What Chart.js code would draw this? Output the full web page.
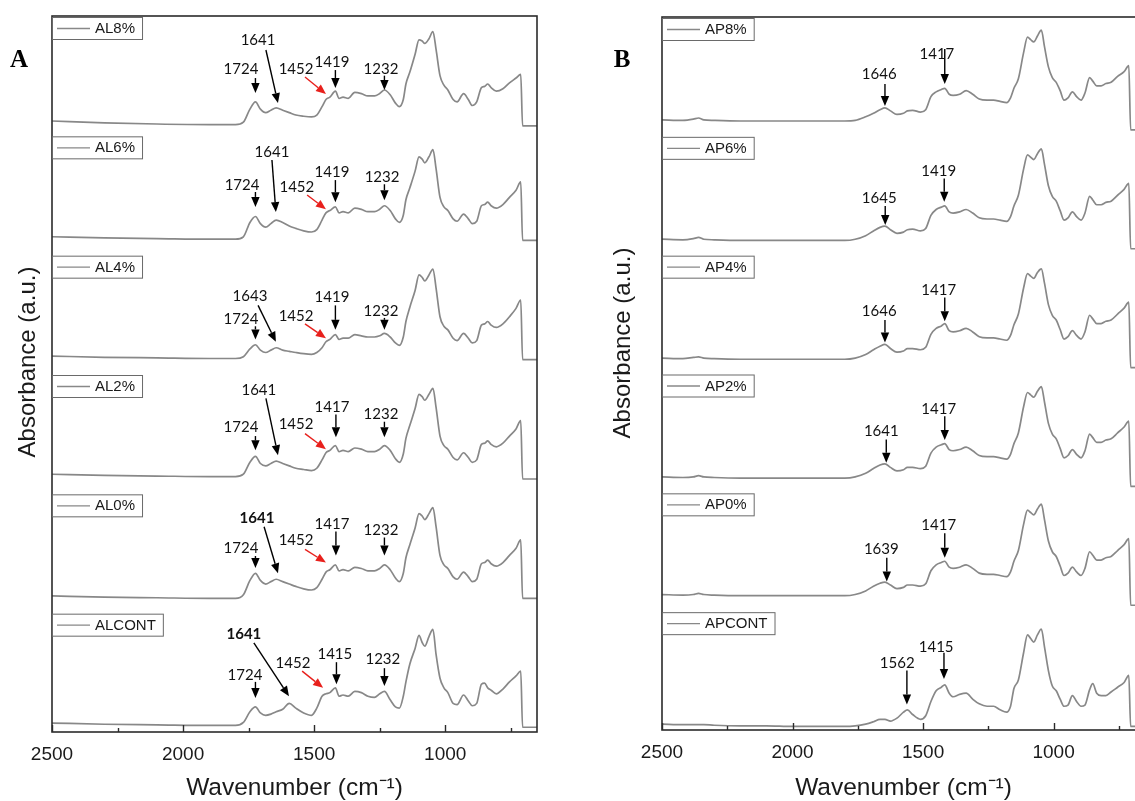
<!DOCTYPE html>
<html>
<head>
<meta charset="utf-8">
<script src="https://cdn.jsdelivr.net/npm/chart.js@4.4.1/dist/chart.umd.min.js"></script>
<style>
  html, body { margin: 0; padding: 0; background: #fff; overflow: hidden; width: 1135px; height: 801px; }
  canvas { position: absolute; top: 0; }
  #chartA { left: 0; }
  #chartB { left: 560px; }
</style>
</head>
<body>
<canvas id="chartA" width="560" height="801"></canvas>
<canvas id="chartB" width="600" height="801"></canvas>
<script>
// ---- data ----
const xTicks = [2500, 2250, 2000, 1750, 1500, 1250, 1000, 750];
const xMajor = [2500, 2000, 1500, 1000];

const namesA = ['AL8%', 'AL6%', 'AL4%', 'AL2%', 'AL0%', 'ALCONT'];
const namesB = ['AP8%', 'AP6%', 'AP4%', 'AP2%', 'AP0%', 'APCONT'];

const wnA = [2500, 2300, 2100, 1900, 1800, 1770, 1745, 1724, 1705, 1685, 1665, 1645, 1620, 1595, 1570, 1540,
  1510, 1490, 1470, 1455, 1440, 1419, 1405, 1390, 1370, 1345, 1320, 1295, 1270, 1250, 1232, 1210,
  1190, 1175, 1160, 1150, 1135, 1115, 1100, 1088, 1078, 1062, 1047, 1035, 1020, 1005, 990, 970,
  955, 930, 912, 897, 880, 862, 850, 838, 825, 805, 780, 755, 730, 712, 705, 650];

const al8 = [0.12, 0.105, 0.095, 0.09, 0.09, 0.11, 0.22, 0.28, 0.22, 0.19, 0.21, 0.23, 0.21, 0.19, 0.17, 0.16,
  0.155, 0.17, 0.24, 0.30, 0.32, 0.37, 0.31, 0.32, 0.31, 0.36, 0.35, 0.33, 0.33, 0.35, 0.38, 0.34,
  0.27, 0.24, 0.30, 0.43, 0.53, 0.68, 0.80, 0.79, 0.77, 0.81, 0.87, 0.72, 0.50, 0.42, 0.38, 0.30,
  0.28, 0.35, 0.30, 0.25, 0.28, 0.40, 0.41, 0.43, 0.40, 0.37, 0.39, 0.44, 0.48, 0.51, 0.08, 0.08];
const al6 = [0.15, 0.14, 0.135, 0.13, 0.13, 0.15, 0.27, 0.32, 0.26, 0.23, 0.26, 0.29, 0.27, 0.24, 0.22, 0.20,
  0.19, 0.21, 0.29, 0.35, 0.37, 0.40, 0.35, 0.36, 0.35, 0.39, 0.38, 0.36, 0.36, 0.38, 0.41, 0.37,
  0.30, 0.27, 0.33, 0.46, 0.56, 0.70, 0.82, 0.80, 0.77, 0.82, 0.88, 0.72, 0.48, 0.40, 0.37, 0.30,
  0.28, 0.34, 0.30, 0.26, 0.28, 0.41, 0.42, 0.44, 0.41, 0.39, 0.42, 0.48, 0.54, 0.61, 0.12, 0.12];
const al4 = [0.15, 0.14, 0.135, 0.13, 0.13, 0.145, 0.21, 0.245, 0.20, 0.18, 0.20, 0.22, 0.20, 0.19, 0.18, 0.17,
  0.165, 0.18, 0.22, 0.27, 0.29, 0.33, 0.29, 0.30, 0.30, 0.33, 0.32, 0.31, 0.31, 0.32, 0.34, 0.31,
  0.26, 0.24, 0.31, 0.44, 0.56, 0.70, 0.83, 0.81, 0.78, 0.83, 0.88, 0.72, 0.48, 0.40, 0.37, 0.30,
  0.28, 0.34, 0.30, 0.26, 0.28, 0.41, 0.42, 0.44, 0.41, 0.39, 0.42, 0.48, 0.55, 0.62, 0.12, 0.12];
const al2 = [0.16, 0.15, 0.145, 0.14, 0.14, 0.16, 0.26, 0.31, 0.25, 0.23, 0.25, 0.27, 0.25, 0.23, 0.21, 0.20,
  0.19, 0.21, 0.28, 0.34, 0.36, 0.40, 0.35, 0.36, 0.35, 0.38, 0.37, 0.35, 0.35, 0.37, 0.40, 0.36,
  0.29, 0.26, 0.33, 0.46, 0.57, 0.71, 0.83, 0.81, 0.78, 0.83, 0.88, 0.72, 0.48, 0.40, 0.37, 0.30,
  0.28, 0.34, 0.30, 0.26, 0.28, 0.41, 0.42, 0.44, 0.41, 0.39, 0.42, 0.48, 0.54, 0.61, 0.12, 0.12];
const al0 = [0.14, 0.13, 0.125, 0.12, 0.12, 0.15, 0.27, 0.33, 0.27, 0.24, 0.26, 0.28, 0.26, 0.24, 0.22, 0.20,
  0.19, 0.21, 0.28, 0.34, 0.36, 0.40, 0.35, 0.36, 0.35, 0.38, 0.37, 0.35, 0.35, 0.37, 0.40, 0.36,
  0.29, 0.26, 0.33, 0.46, 0.57, 0.71, 0.83, 0.81, 0.78, 0.83, 0.88, 0.72, 0.48, 0.40, 0.37, 0.30,
  0.28, 0.34, 0.30, 0.26, 0.28, 0.41, 0.42, 0.44, 0.41, 0.39, 0.42, 0.48, 0.54, 0.61, 0.12, 0.12];
const alCont = [0.075, 0.065, 0.06, 0.055, 0.055, 0.08, 0.17, 0.21, 0.16, 0.14, 0.15, 0.17, 0.19, 0.24, 0.20, 0.16,
  0.14, 0.20, 0.30, 0.32, 0.33, 0.37, 0.30, 0.31, 0.30, 0.34, 0.33, 0.30, 0.29, 0.32, 0.34, 0.27,
  0.21, 0.20, 0.30, 0.42, 0.57, 0.70, 0.81, 0.75, 0.72, 0.80, 0.86, 0.65, 0.45, 0.37, 0.33, 0.24,
  0.23, 0.31, 0.26, 0.22, 0.24, 0.40, 0.41, 0.37, 0.35, 0.32, 0.36, 0.42, 0.47, 0.51, 0.04, 0.04];

const wnB = [2500, 2420, 2380, 2360, 2340, 2300, 2200, 2100, 2000, 1900, 1800, 1760, 1720, 1690, 1665, 1646,
  1625, 1600, 1575, 1560, 1540, 1510, 1490, 1470, 1450, 1430, 1417, 1400, 1385, 1360, 1335, 1310,
  1285, 1255, 1230, 1205, 1180, 1165, 1152, 1135, 1115, 1100, 1088, 1076, 1062, 1047, 1035, 1020,
  1005, 990, 975, 960, 945, 928, 912, 895, 880, 862, 850, 835, 818, 800, 780, 755, 730, 712, 705, 650];

const ap8 = [0.135, 0.13, 0.14, 0.15, 0.135, 0.13, 0.125, 0.125, 0.125, 0.125, 0.125, 0.13, 0.16, 0.19, 0.22, 0.235,
  0.21, 0.18, 0.19, 0.21, 0.215, 0.20, 0.22, 0.33, 0.37, 0.39, 0.40, 0.35, 0.34, 0.35, 0.38, 0.35,
  0.31, 0.30, 0.30, 0.29, 0.28, 0.32, 0.40, 0.48, 0.70, 0.83, 0.81, 0.79, 0.84, 0.89, 0.75, 0.58,
  0.49, 0.45, 0.38, 0.30, 0.32, 0.37, 0.33, 0.30, 0.36, 0.49, 0.46, 0.42, 0.42, 0.44, 0.45, 0.50, 0.54, 0.59, 0.05, 0.05];
const ap6 = [0.13, 0.125, 0.135, 0.145, 0.13, 0.125, 0.12, 0.12, 0.12, 0.12, 0.12, 0.13, 0.16, 0.20, 0.23, 0.24,
  0.21, 0.18, 0.19, 0.21, 0.215, 0.20, 0.22, 0.33, 0.38, 0.40, 0.41, 0.36, 0.35, 0.36, 0.38, 0.35,
  0.31, 0.30, 0.30, 0.29, 0.28, 0.32, 0.41, 0.50, 0.72, 0.84, 0.82, 0.80, 0.85, 0.89, 0.76, 0.58,
  0.49, 0.45, 0.37, 0.29, 0.31, 0.36, 0.32, 0.29, 0.35, 0.49, 0.46, 0.42, 0.42, 0.44, 0.45, 0.50, 0.55, 0.60, 0.05, 0.05];
const ap4 = [0.13, 0.125, 0.135, 0.14, 0.13, 0.125, 0.12, 0.12, 0.12, 0.12, 0.12, 0.13, 0.16, 0.20, 0.23, 0.245,
  0.21, 0.18, 0.19, 0.21, 0.21, 0.20, 0.22, 0.33, 0.38, 0.40, 0.42, 0.36, 0.35, 0.36, 0.38, 0.35,
  0.31, 0.30, 0.30, 0.29, 0.28, 0.32, 0.41, 0.50, 0.72, 0.84, 0.82, 0.80, 0.85, 0.88, 0.76, 0.58,
  0.49, 0.45, 0.37, 0.29, 0.31, 0.36, 0.32, 0.29, 0.35, 0.49, 0.46, 0.42, 0.42, 0.44, 0.45, 0.50, 0.55, 0.60, 0.05, 0.05];
const ap2 = [0.13, 0.125, 0.13, 0.14, 0.13, 0.125, 0.12, 0.12, 0.12, 0.12, 0.12, 0.13, 0.16, 0.20, 0.23, 0.24,
  0.21, 0.18, 0.19, 0.21, 0.21, 0.20, 0.22, 0.33, 0.38, 0.40, 0.41, 0.36, 0.35, 0.36, 0.38, 0.35,
  0.31, 0.30, 0.30, 0.29, 0.28, 0.32, 0.41, 0.50, 0.72, 0.84, 0.82, 0.80, 0.85, 0.89, 0.76, 0.58,
  0.49, 0.45, 0.37, 0.29, 0.31, 0.36, 0.32, 0.29, 0.35, 0.49, 0.46, 0.42, 0.42, 0.44, 0.45, 0.50, 0.55, 0.60, 0.05, 0.05];
const ap0 = [0.14, 0.135, 0.14, 0.15, 0.14, 0.135, 0.13, 0.13, 0.13, 0.13, 0.13, 0.14, 0.17, 0.21, 0.235, 0.245,
  0.22, 0.19, 0.20, 0.22, 0.22, 0.21, 0.23, 0.34, 0.39, 0.41, 0.42, 0.37, 0.36, 0.37, 0.39, 0.36,
  0.32, 0.31, 0.31, 0.30, 0.29, 0.33, 0.42, 0.51, 0.73, 0.85, 0.83, 0.81, 0.86, 0.90, 0.77, 0.59,
  0.50, 0.46, 0.38, 0.30, 0.32, 0.37, 0.33, 0.30, 0.36, 0.50, 0.47, 0.43, 0.43, 0.45, 0.46, 0.51, 0.56, 0.61, 0.05, 0.05];
const apCont = [0.05, 0.045, 0.045, 0.045, 0.045, 0.04, 0.035, 0.035, 0.03, 0.03, 0.03, 0.035, 0.05, 0.07, 0.09, 0.09,
  0.075, 0.10, 0.15, 0.17, 0.13, 0.09, 0.12, 0.24, 0.33, 0.36, 0.38, 0.31, 0.28, 0.30, 0.31, 0.26,
  0.22, 0.20, 0.20, 0.17, 0.15, 0.20, 0.35, 0.42, 0.65, 0.80, 0.77, 0.74, 0.80, 0.85, 0.70, 0.50,
  0.37, 0.33, 0.26, 0.20, 0.21, 0.29, 0.24, 0.20, 0.21, 0.34, 0.39, 0.31, 0.29, 0.29, 0.32, 0.36, 0.40, 0.46, 0.03, 0.03];

// peak labels per band: [text, text wn, text y, tail wn, tail y, tip wn, tip y, style]
const peaksA = [
  [['1641', 1714, 0.757, 1684, 0.715, 1638, 0.27], ['1724', 1779, 0.514, 1724, 0.48, 1724, 0.355],
   ['1452', 1569, 0.514, 1535, 0.489, 1455, 0.346, 'red'], ['1419', 1432, 0.573, 1419, 0.547, 1419, 0.397],
   ['1232', 1245, 0.514, 1232, 0.50, 1232, 0.38]],
  [['1641', 1661, 0.818, 1661, 0.793, 1646, 0.357], ['1724', 1775, 0.54, 1724, 0.525, 1724, 0.40],
   ['1452', 1566, 0.525, 1527, 0.50, 1455, 0.38, 'red'], ['1419', 1432, 0.65, 1419, 0.625, 1419, 0.44],
   ['1232', 1241, 0.609, 1232, 0.59, 1232, 0.457]],
  [['1643', 1745, 0.61, 1714, 0.575, 1646, 0.27], ['1724', 1779, 0.42, 1724, 0.40, 1724, 0.29],
   ['1452', 1569, 0.44, 1535, 0.42, 1455, 0.30, 'red'], ['1419', 1432, 0.60, 1419, 0.575, 1419, 0.37],
   ['1232', 1245, 0.49, 1232, 0.47, 1232, 0.37]],
  [['1641', 1711, 0.82, 1684, 0.795, 1638, 0.32], ['1724', 1779, 0.51, 1724, 0.48, 1724, 0.36],
   ['1452', 1569, 0.54, 1535, 0.50, 1455, 0.37, 'red'], ['1417', 1432, 0.68, 1417, 0.66, 1417, 0.47],
   ['1232', 1245, 0.62, 1232, 0.60, 1232, 0.47]],
  [['1641', 1718, 0.75, 1691, 0.72, 1638, 0.33, 'bold'], ['1724', 1779, 0.50, 1724, 0.475, 1724, 0.374],
   ['1452', 1569, 0.57, 1535, 0.53, 1455, 0.42, 'red'], ['1417', 1432, 0.70, 1417, 0.68, 1417, 0.48],
   ['1232', 1245, 0.65, 1232, 0.63, 1232, 0.48]],
  [['1641', 1768, 0.78, 1730, 0.746, 1596, 0.30, 'bold'], ['1724', 1764, 0.436, 1724, 0.42, 1724, 0.285],
   ['1452', 1581, 0.536, 1546, 0.51, 1466, 0.37, 'red'], ['1415', 1421, 0.61, 1415, 0.585, 1415, 0.40],
   ['1232', 1238, 0.57, 1232, 0.535, 1232, 0.385]]
];
const peaksB = [
  [['1646', 1668, 0.479, 1646, 0.437, 1646, 0.252], ['1417', 1447, 0.647, 1417, 0.73, 1417, 0.437]],
  [['1645', 1668, 0.437, 1645, 0.41, 1645, 0.25], ['1419', 1440, 0.66, 1419, 0.64, 1419, 0.445]],
  [['1646', 1668, 0.48, 1646, 0.45, 1646, 0.26], ['1417', 1440, 0.66, 1417, 0.64, 1417, 0.44]],
  [['1641', 1660, 0.47, 1641, 0.445, 1641, 0.25], ['1417', 1440, 0.66, 1417, 0.64, 1417, 0.44]],
  [['1639', 1660, 0.48, 1639, 0.45, 1639, 0.25], ['1417', 1440, 0.68, 1417, 0.655, 1417, 0.45]],
  [['1562', 1599, 0.52, 1562, 0.50, 1562, 0.215], ['1415', 1450, 0.66, 1420, 0.65, 1420, 0.43]]
];

// ---- drawing ----
const LINE = '#888888';
const INK = '#1a1a1a';
const SANS = '"Liberation Sans", Arial, sans-serif';
const LABEL_FONT = 'Lato, "Open Sans", sans-serif';

function buildDatasets(wn, series, names) {
    const n = series.length;
    return series.map((vals, i) => ({
        label: names[i],
        data: wn.map((w, j) => ({ x: w, y: vals[j] + (n - 1 - i) })),
        borderColor: LINE,
        borderWidth: 1.7,
        pointRadius: 0,
        fill: false,
        cubicInterpolationMode: 'monotone'
    }));
}

function drawArrow(ctx, x1, y1, x2, y2, color) {
    const ang = Math.atan2(y2 - y1, x2 - x1);
    const len = 10, half = 4.2;
    const bx = x2 - len * Math.cos(ang), by = y2 - len * Math.sin(ang);
    ctx.strokeStyle = color;
    ctx.fillStyle = color;
    ctx.lineWidth = 1.4;
    ctx.beginPath();
    ctx.moveTo(x1, y1);
    ctx.lineTo(bx, by);
    ctx.stroke();
    ctx.beginPath();
    ctx.moveTo(x2, y2);
    ctx.lineTo(bx + half * Math.sin(ang), by - half * Math.cos(ang));
    ctx.lineTo(bx - half * Math.sin(ang), by + half * Math.cos(ang));
    ctx.closePath();
    ctx.fill();
}

function decorPlugin(panel) {
    return {
        id: 'decor',
        afterDatasetsDraw(chart) {
            const { ctx, chartArea: a, scales: { x, y } } = chart;
            const n = panel.names.length;
            ctx.save();

            // frame
            ctx.strokeStyle = '#2b2b2b';
            ctx.lineWidth = 1.6;
            ctx.strokeRect(a.left, a.top, a.right - a.left, a.bottom - a.top);

            // inward ticks on the bottom axis
            ctx.lineWidth = 1.4;
            xTicks.forEach(v => {
                const px = Math.round(x.getPixelForValue(v)) + 0.5;
                const len = xMajor.includes(v) ? 7 : 4;
                ctx.beginPath();
                ctx.moveTo(px, a.bottom);
                ctx.lineTo(px, a.bottom - len);
                ctx.stroke();
            });

            // legend box for each trace
            ctx.font = '15px ' + SANS;
            ctx.textBaseline = 'middle';
            ctx.textAlign = 'left';
            panel.names.forEach((name, i) => {
                const top = y.getPixelForValue(n - i) + 1;
                const w = ctx.measureText(name).width + 50;
                ctx.fillStyle = '#fff';
                ctx.fillRect(a.left + 1, top, w, 22);
                ctx.strokeStyle = '#6a6a6a';
                ctx.lineWidth = 1;
                ctx.strokeRect(a.left + 0.5, top + 0.5, w, 22);
                ctx.strokeStyle = LINE;
                ctx.lineWidth = 1.4;
                ctx.beginPath();
                ctx.moveTo(a.left + 5, top + 11.5);
                ctx.lineTo(a.left + 38, top + 11.5);
                ctx.stroke();
                ctx.fillStyle = INK;
                ctx.fillText(name, a.left + 43, top + 12);
            });

            // peak labels and arrows
            ctx.textAlign = 'center';
            ctx.textBaseline = 'alphabetic';
            panel.peaks.forEach((band, i) => {
                const off = n - 1 - i;
                band.forEach(p => {
                    const [txt, tx, ty, x1, y1, x2, y2, style] = p;
                    const color = style === 'red' ? '#e8201c' : '#000';
                    drawArrow(ctx, x.getPixelForValue(x1), y.getPixelForValue(off + y1),
                        x.getPixelForValue(x2), y.getPixelForValue(off + y2), color);
                    ctx.fillStyle = '#111';
                    ctx.font = (style === 'bold' ? 'bold ' : '') + '15px ' + LABEL_FONT;
                    ctx.fillText(txt, x.getPixelForValue(tx), y.getPixelForValue(off + ty));
                });
            });

            // axis titles
            ctx.fillStyle = INK;
            ctx.textBaseline = 'middle';
            ctx.font = '24.5px ' + SANS;
            ctx.fillText('Wavenumber (cm⁻¹)', (a.left + a.right) / 2, 788);
            ctx.font = '24px ' + SANS;
            ctx.save();
            ctx.translate(panel.yTitleX, panel.yTitleY);
            ctx.rotate(-Math.PI / 2);
            ctx.fillText('Absorbance (a.u.)', 0, 0);
            ctx.restore();

            // panel letter
            ctx.font = 'bold 25px "Liberation Serif", "Times New Roman", serif';
            ctx.textBaseline = 'alphabetic';
            ctx.fillStyle = '#000';
            ctx.fillText(panel.letter, panel.letterX, 67);

            ctx.restore();
        }
    };
}

function createPanel(canvasId, panel) {
    const el = document.getElementById(canvasId);
    return new Chart(el.getContext('2d'), {
        type: 'line',
        data: { datasets: buildDatasets(panel.wn, panel.series, panel.names) },
        options: {
            responsive: false,
            animation: false,
            layout: { padding: { left: 0, right: panel.padRight, top: panel.padTop, bottom: 0 } },
            plugins: { legend: { display: false }, tooltip: { enabled: false } },
            scales: {
                x: {
                    type: 'linear',
                    reverse: true,
                    min: 650,
                    max: 2500,
                    grid: { display: false, drawTicks: false },
                    border: { display: false },
                    afterBuildTicks: s => { s.ticks = xTicks.map(v => ({ value: v })); },
                    afterFit: s => { s.height = panel.xHeight; },
                    ticks: {
                        autoSkip: false,
                        maxRotation: 0,
                        padding: 11,
                        color: INK,
                        font: { family: SANS, size: 19 },
                        callback: v => xMajor.includes(v) ? String(v) : ''
                    }
                },
                y: {
                    min: 0,
                    max: panel.names.length,
                    grid: { display: false, drawTicks: false },
                    border: { display: false },
                    ticks: { display: false },
                    afterFit: s => { s.width = panel.yWidth; }
                }
            }
        },
        plugins: [decorPlugin(panel)]
    });
}

document.addEventListener('DOMContentLoaded', function() {
    createPanel('chartA', {
        wn: wnA, series: [al8, al6, al4, al2, al0, alCont], names: namesA, peaks: peaksA,
        yWidth: 52, padRight: 23, padTop: 16, xHeight: 69,
        yTitleX: 28, yTitleY: 362, letter: 'A', letterX: 19
    });
    createPanel('chartB', {
        wn: wnB, series: [ap8, ap6, ap4, ap2, ap0, apCont], names: namesB, peaks: peaksB,
        yWidth: 102, padRight: 15, padTop: 17, xHeight: 71,
        yTitleX: 63, yTitleY: 343, letter: 'B', letterX: 62
    });
});
</script>
</body>
</html>
